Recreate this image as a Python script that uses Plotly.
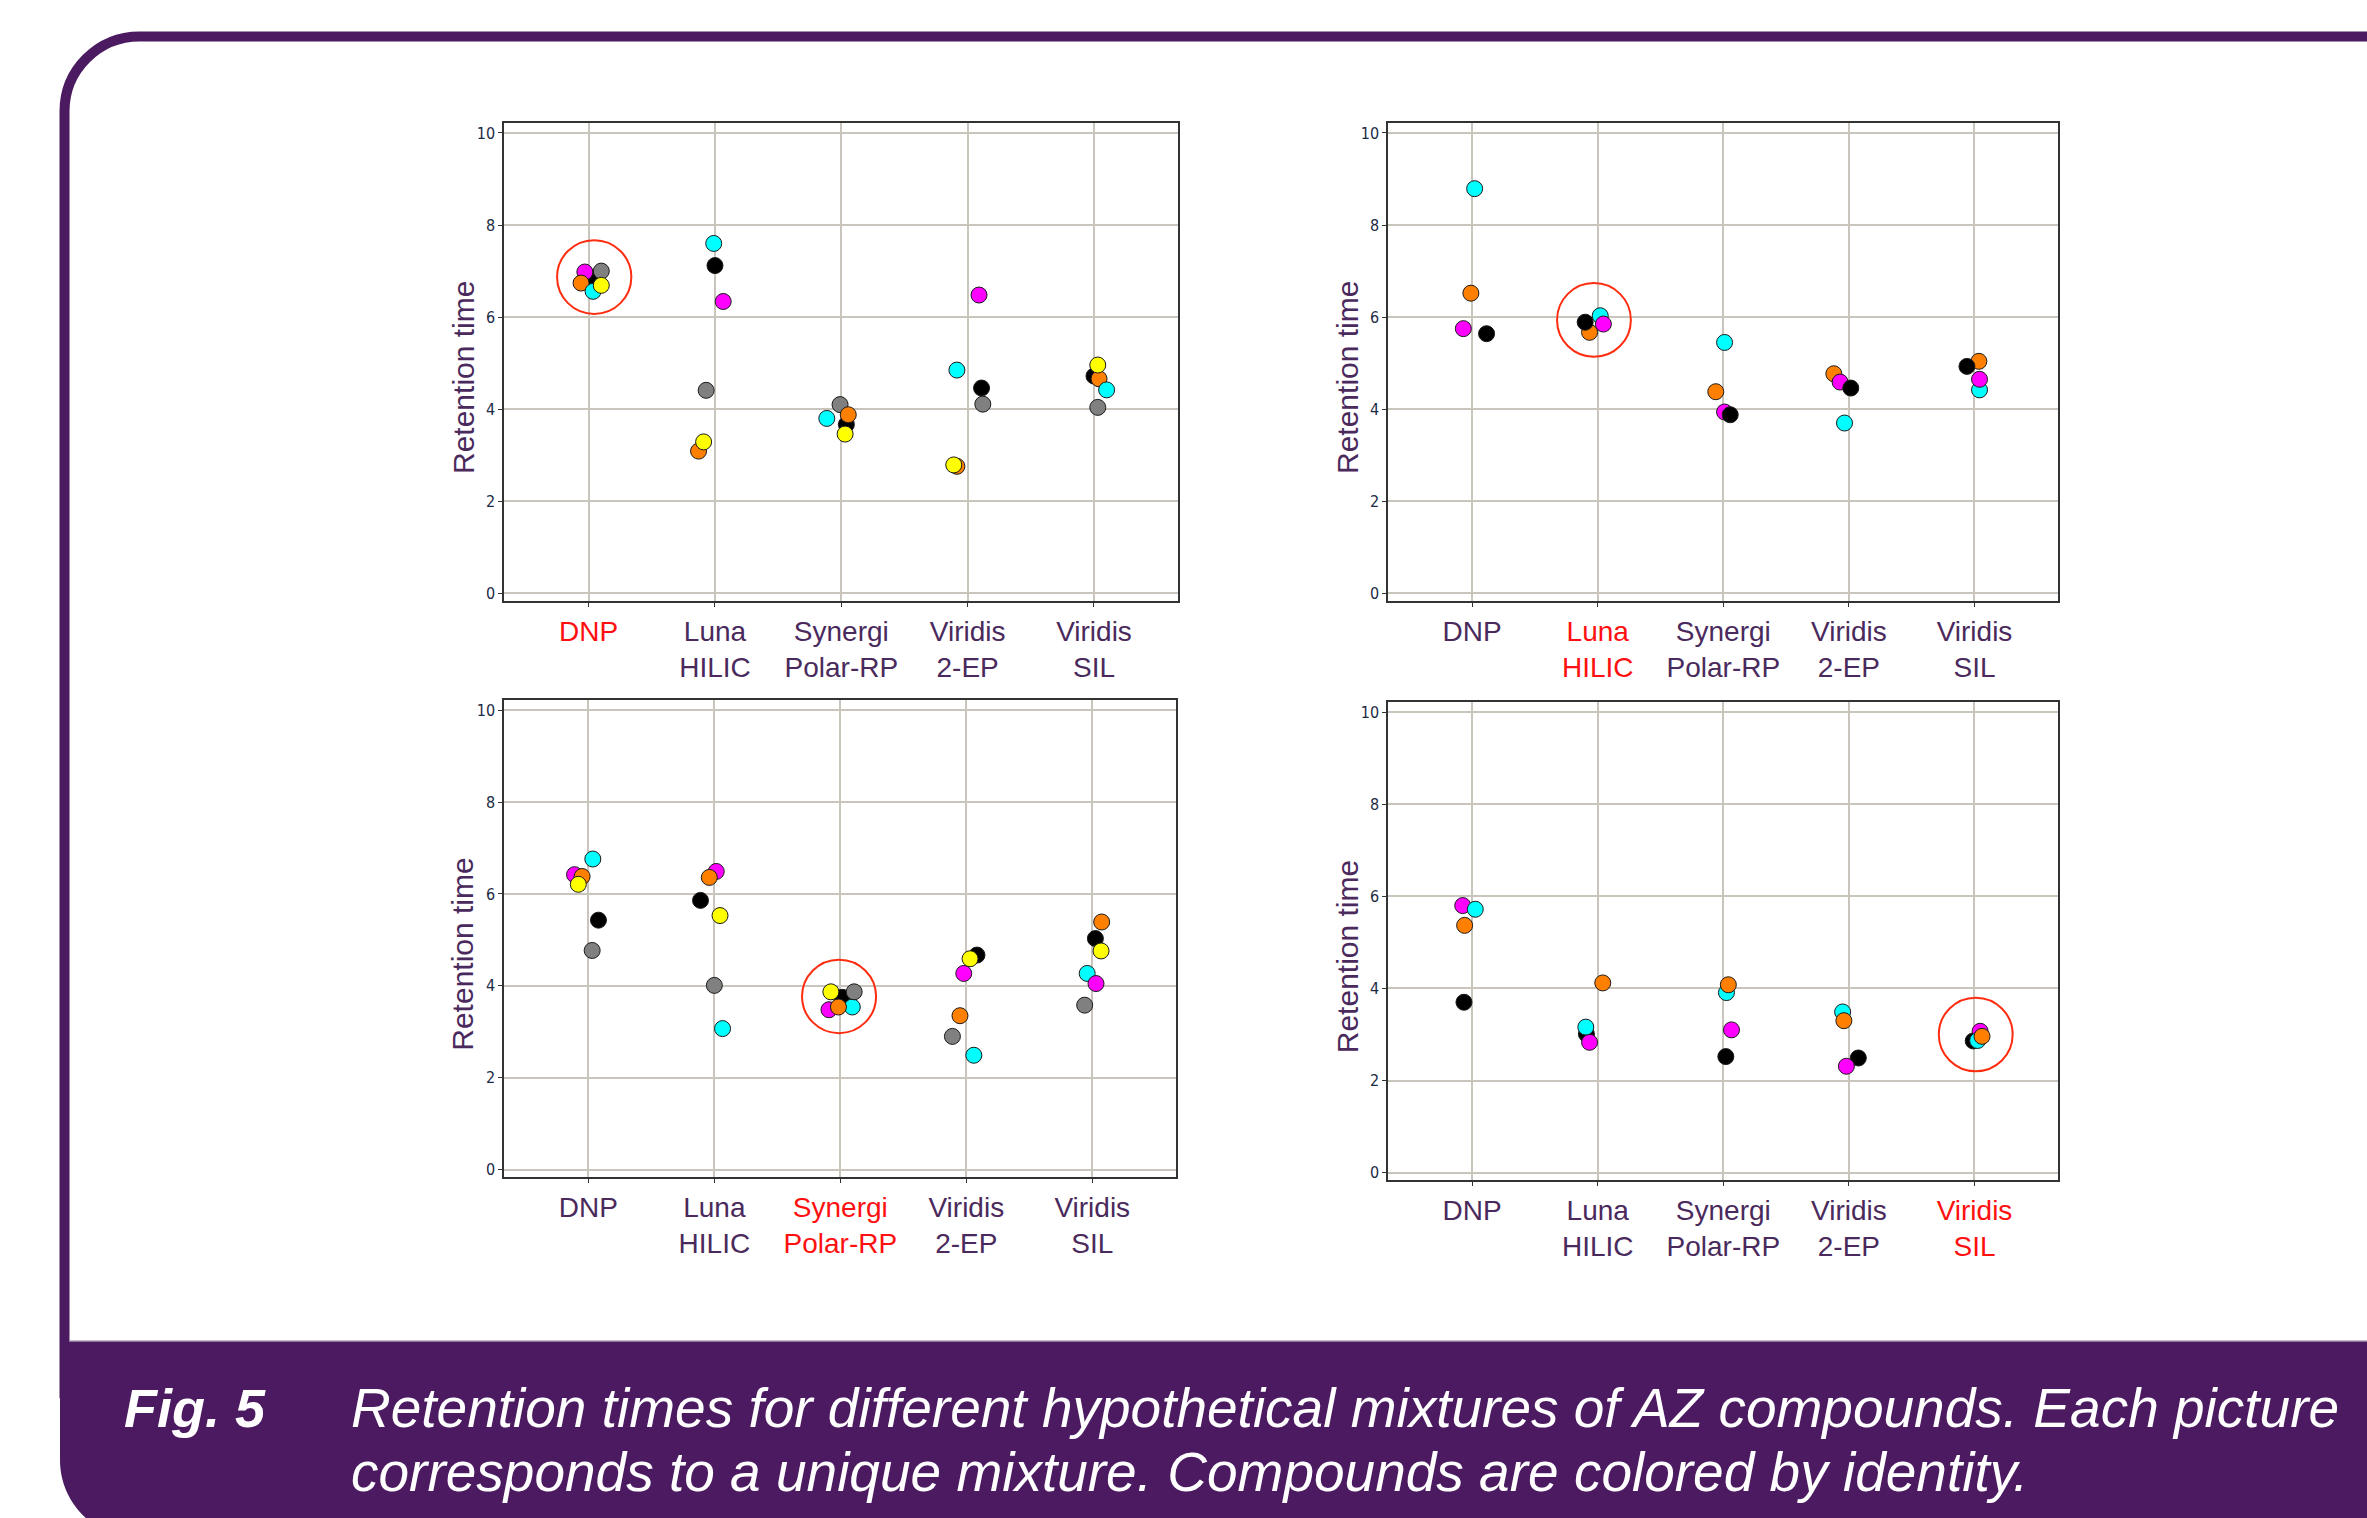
import plotly.graph_objects as go

W, H = 2367, 1518

# ---------------- data ----------------
categories = ["DNP", "Luna<br>HILIC", "Synergi<br>Polar-RP", "Viridis<br>2-EP", "Viridis<br>SIL"]
y_ticks = [0, 2, 4, 6, 8, 10]
y_title = "Retention time"

compound_colors = {
    "magenta": "#ff00ff",
    "gray": "#808080",
    "black": "#000000",
    "orange": "#ff7f00",
    "yellow": "#ffff00",
    "cyan": "#00ffff",
}

# Panel 1 (mixture highlighted on DNP)
p1_highlight = 0
p1_rt = {
    "black":   [6.85, 7.12, 3.67, 4.46, 4.72],
    "magenta": [6.98, 6.34, None, 6.48, None],
    "gray":    [7.00, 4.41, 4.10, 4.11, 4.04],
    "orange":  [6.74, 3.09, 3.88, 2.76, 4.66],
    "cyan":    [6.56, 7.60, 3.80, 4.85, 4.42],
    "yellow":  [6.69, 3.29, 3.46, 2.79, 4.96],
}
p1_jitter = {
    "black":   [0.05, 0.00, 0.04, 0.11, 0.00],
    "magenta": [-0.03, 0.065, 0.0, 0.09, 0.0],
    "gray":    [0.10, -0.07, -0.01, 0.12, 0.03],
    "orange":  [-0.06, -0.13, 0.055, -0.085, 0.04],
    "cyan":    [0.035, -0.01, -0.115, -0.085, 0.10],
    "yellow":  [0.10, -0.09, 0.03, -0.11, 0.03],
}
p1_circle = (0.044, 6.87)

# Panel 2 (highlighted on Luna HILIC)
p2_highlight = 1
p2_rt = {
    "cyan":    [8.79, 6.03, 5.45, 3.70, 4.42],
    "orange":  [6.52, 5.67, 4.38, 4.77, 5.04],
    "magenta": [5.75, 5.85, 3.94, 4.59, 4.65],
    "black":   [5.64, 5.89, 3.88, 4.46, 4.93],
}
p2_jitter = {
    "cyan":    [0.02, 0.02, 0.01, -0.035, 0.04],
    "orange":  [-0.01, -0.065, -0.06, -0.12, 0.035],
    "magenta": [-0.07, 0.045, 0.01, -0.07, 0.04],
    "black":   [0.115, -0.10, 0.055, 0.015, -0.06],
}
p2_circle = (-0.03, 5.94)

# Panel 3 (highlighted on Synergi Polar-RP)
p3_highlight = 2
p3_rt = {
    "black":   [5.43, 5.86, 3.75, 4.67, 5.03],
    "cyan":    [6.76, 3.07, 3.54, 2.49, 4.27],
    "magenta": [6.42, 6.49, 3.48, 4.27, 4.05],
    "orange":  [6.38, 6.36, 3.54, 3.35, 5.39],
    "yellow":  [6.21, 5.53, 3.87, 4.59, 4.76],
    "gray":    [4.77, 4.01, 3.87, 2.90, 3.58],
}
p3_jitter = {
    "black":   [0.08, -0.11, 0.015, 0.085, 0.025],
    "cyan":    [0.035, 0.065, 0.095, 0.06, -0.04],
    "magenta": [-0.11, 0.015, -0.09, -0.02, 0.03],
    "orange":  [-0.05, -0.04, -0.015, -0.05, 0.075],
    "yellow":  [-0.08, 0.045, -0.075, 0.03, 0.07],
    "gray":    [0.03, 0.0, 0.11, -0.11, -0.06],
}
p3_circle = (-0.01, 3.77)

# Panel 4 (highlighted on Viridis SIL)
p4_highlight = 4
p4_rt = {
    "black":   [3.70, 3.01, 2.52, 2.49, 2.86],
    "magenta": [5.80, 2.83, 3.10, 2.31, 3.07],
    "cyan":    [5.72, 3.16, 3.91, 3.49, 2.87],
    "orange":  [5.37, 4.12, 4.08, 3.30, 2.96],
}
p4_jitter = {
    "black":   [-0.065, -0.09, 0.02, 0.075, -0.01],
    "magenta": [-0.075, -0.065, 0.065, -0.02, 0.045],
    "cyan":    [0.025, -0.095, 0.025, -0.05, 0.025],
    "orange":  [-0.06, 0.04, 0.04, -0.04, 0.06],
}
p4_circle = (0.01, 3.00)

caption_label = "Fig. 5"
caption_lines = [
    "Retention times for different hypothetical mixtures of AZ compounds. Each picture",
    "corresponds to a unique mixture. Compounds are colored by identity.",
]

# ---------------- styling / layout helpers ----------------
PURPLE = "#4b1a61"
LABEL_PURPLE = "#4a2a5c"
RED = "#ff1010"
FONT = "Liberation Sans, Arial, Helvetica, sans-serif"


def px_x(p):
    return p / W


def px_y(p):
    return 1 - p / H


panels = [
    (p1_rt, p1_jitter, p1_highlight, p1_circle, (504, 1178), (123, 602)),
    (p2_rt, p2_jitter, p2_highlight, p2_circle, (1388, 2058), (123, 602)),
    (p3_rt, p3_jitter, p3_highlight, p3_circle, (504, 1176), (701, 1179)),
    (p4_rt, p4_jitter, p4_highlight, p4_circle, (1388, 2058), (703, 1182)),
]

fig = go.Figure()
layout = dict(
    width=W, height=H,
    margin=dict(l=0, r=0, t=0, b=0),
    paper_bgcolor="white", plot_bgcolor="white",
    showlegend=False,
    font=dict(family=FONT),
)
shapes = []
annotations = []

for i, (rt, jit, hl, circ, (xl, xr), (yt, yb)) in enumerate(panels):
    n = i + 1
    xa = "x" if n == 1 else f"x{n}"
    ya = "y" if n == 1 else f"y{n}"
    for comp, vals in rt.items():
        xs, ys = [], []
        for k, v in enumerate(vals):
            if v is None:
                continue
            xs.append(k + 1 + jit[comp][k])
            ys.append(v)
        fig.add_trace(go.Scatter(
            x=xs, y=ys, mode="markers", xaxis=xa, yaxis=ya, name=comp,
            marker=dict(size=16, color=compound_colors[comp],
                        line=dict(width=1, color="#1a1a1a")),
            hoverinfo="x+y+name",
        ))
    ticktext = []
    for k, c in enumerate(categories):
        if k == hl:
            ticktext.append("<br>".join(f"<span style='color:{RED}'>{part}</span>" for part in c.split("<br>")))
        else:
            ticktext.append(c)
    axkey = "xaxis" if n == 1 else f"xaxis{n}"
    aykey = "yaxis" if n == 1 else f"yaxis{n}"
    layout[axkey] = dict(
        domain=[px_x(xl), px_x(xr)], anchor=ya,
        range=[0.33, 5.665], tickvals=[1, 2, 3, 4, 5], ticktext=ticktext,
        showgrid=True, gridcolor="#c9c5bd", gridwidth=1.5, zeroline=False,
        showline=True, mirror=True, linecolor="#333333", linewidth=1.5,
        ticks="outside", ticklen=4, tickcolor="#333333",
        tickfont=dict(size=28, color=LABEL_PURPLE, family=FONT),
        fixedrange=True,
    )
    layout[aykey] = dict(
        domain=[px_y(yb), px_y(yt)], anchor=xa,
        range=[-0.17, 10.22], tickvals=y_ticks,
        showgrid=True, gridcolor="#c9c5bd", gridwidth=1.5, zeroline=False,
        showline=True, mirror=True, linecolor="#333333", linewidth=1.5,
        ticks="outside", ticklen=4, tickcolor="#333333",
        tickfont=dict(size=16, color="#1c2b45",
                      family="Liberation Sans Narrow, DejaVu Sans Condensed, Arial Narrow, sans-serif"),
        fixedrange=True,
    )
    # y-axis title placed as rotated text next to the axis
    annotations.append(dict(
        xref="paper", yref="paper", x=px_x(xl - 41), y=px_y((yt + yb) / 2 + 16),
        xanchor="center", yanchor="middle", textangle=-90, showarrow=False,
        text=y_title, font=dict(size=30, color=LABEL_PURPLE, family=FONT),
    ))
    cx, cy = circ
    shapes.append(dict(
        type="circle", xref=xa, yref=ya,
        x0=hl + 1 + cx - 0.294, x1=hl + 1 + cx + 0.294,
        y0=cy - 0.80, y1=cy + 0.80,
        line=dict(color="#ff2d10", width=2),
    ))

# frame outline (rounded corner, top + left)
r = 75
k = 0.5523 * r
bx, by = 64.5, 36.5
outline = (f"M {px_x(2420)},{px_y(by)} L {px_x(bx + r)},{px_y(by)} "
           f"C {px_x(bx + r - k)},{px_y(by)} {px_x(bx)},{px_y(by + r - k)} {px_x(bx)},{px_y(by + r)} "
           f"L {px_x(bx)},{px_y(1400)}")
shapes.append(dict(type="path", xref="paper", yref="paper", path=outline,
                   line=dict(color=PURPLE, width=10)))

# caption band
r2 = 78
k2 = 0.5523 * r2
band = (f"M {px_x(60)},{px_y(1343)} L {px_x(2420)},{px_y(1343)} L {px_x(2420)},{px_y(1545)} "
        f"L {px_x(60 + r2)},{px_y(1540)} "
        f"C {px_x(60 + r2 - k2)},{px_y(1540)} {px_x(60)},{px_y(1540 - r2 + k2)} {px_x(60)},{px_y(1540 - r2)} Z")
shapes.append(dict(type="path", xref="paper", yref="paper", path=band,
                   fillcolor=PURPLE, line=dict(width=0)))
shapes.append(dict(type="line", xref="paper", yref="paper",
                   x0=px_x(69), x1=px_x(2420), y0=px_y(1343), y1=px_y(1343),
                   line=dict(color="#8f7a9c", width=1.5)))

annotations.append(dict(
    xref="paper", yref="paper", x=px_x(122), y=px_y(1410), xanchor="left", yanchor="middle",
    text=f"<b><i>{caption_label}</i></b>", showarrow=False,
    font=dict(size=54, color="white", family=FONT)))
for li, line in enumerate(caption_lines):
    annotations.append(dict(
        xref="paper", yref="paper", x=px_x(349), y=px_y(1410 + 64 * li), xanchor="left", yanchor="middle",
        text=f"<i>{line}</i>", showarrow=False, align="left",
        font=dict(size=55, color="white", family=FONT)))

layout["shapes"] = shapes
layout["annotations"] = annotations

fig.update_layout(**layout)
fig.write_html("out.html")
